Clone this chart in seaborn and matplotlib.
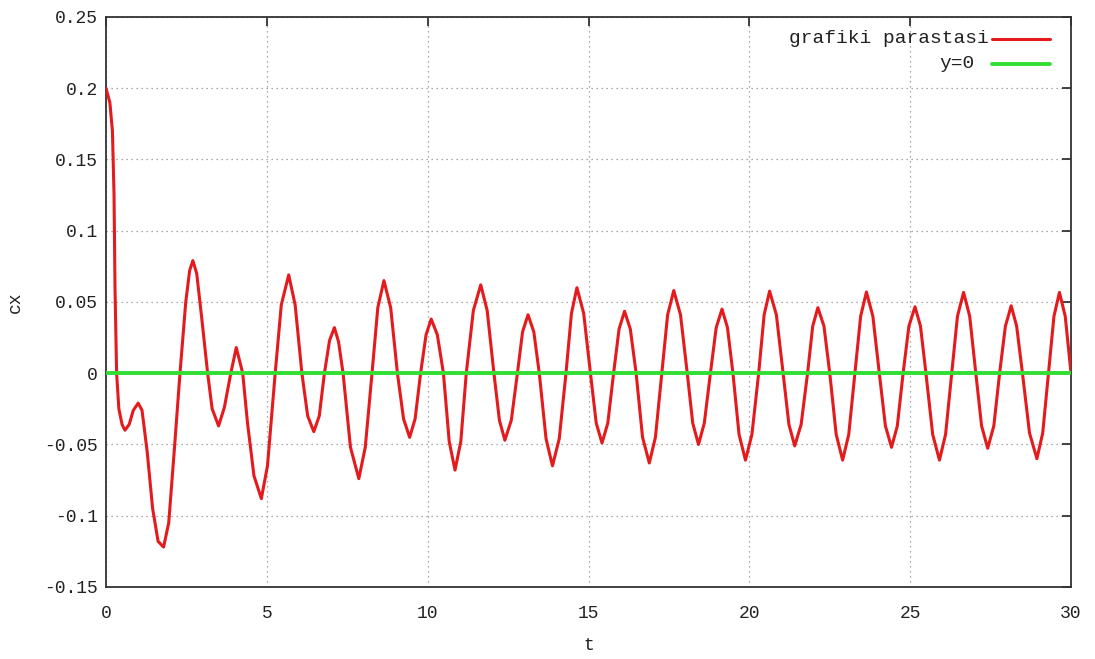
import numpy as np
import pandas as pd
import matplotlib
matplotlib.use("Agg")
import matplotlib.pyplot as plt
import matplotlib.ticker as mticker
import seaborn as sns

# values (t, cx)
t_vals = [0.00, 0.12, 0.20, 0.25, 0.28, 0.33, 0.40, 0.50, 0.59, 0.72, 0.85, 1.00,
          1.12, 1.28, 1.45, 1.62, 1.79, 1.95, 2.12, 2.30, 2.48, 2.60, 2.70, 2.82,
          2.97, 3.16, 3.30, 3.50, 3.68, 3.88, 4.05, 4.25, 4.40, 4.60, 4.83, 5.02,
          5.26, 5.45, 5.68, 5.88, 6.09, 6.27, 6.46, 6.63, 6.79, 6.95, 7.10, 7.23,
          7.37, 7.60, 7.86, 8.06, 8.27, 8.45, 8.64, 8.85, 9.06, 9.25, 9.44, 9.61,
          9.78, 9.95, 10.11, 10.30, 10.49, 10.67, 10.85, 11.03, 11.20, 11.42, 11.65, 11.85,
          12.06, 12.23, 12.40, 12.60, 12.79, 12.95, 13.12, 13.30, 13.47, 13.68, 13.88, 14.09,
          14.30, 14.47, 14.64, 14.85, 15.06, 15.24, 15.42, 15.60, 15.78, 15.95, 16.12, 16.30,
          16.48, 16.68, 16.89, 17.08, 17.28, 17.46, 17.65, 17.86, 18.07, 18.24, 18.42, 18.60,
          18.79, 18.97, 19.15, 19.32, 19.49, 19.68, 19.88, 20.08, 20.29, 20.46, 20.63, 20.84,
          21.05, 21.23, 21.41, 21.61, 21.81, 21.97, 22.13, 22.32, 22.50, 22.70, 22.90, 23.09,
          23.28, 23.46, 23.64, 23.84, 24.04, 24.23, 24.42, 24.60, 24.78, 24.96, 25.15, 25.32,
          25.49, 25.70, 25.91, 26.10, 26.29, 26.47, 26.66, 26.85, 27.04, 27.22, 27.41, 27.60,
          27.78, 27.96, 28.14, 28.31, 28.49, 28.71, 28.94, 29.12, 29.30, 29.47, 29.64, 29.82,
          30.00]
cx_vals = [0.200, 0.190, 0.170, 0.125, 0.060, 0.000, -0.025, -0.036, -0.040, -0.036, -0.026, -0.021,
           -0.026, -0.055, -0.095, -0.118, -0.122, -0.105, -0.055, 0.000, 0.050, 0.072, 0.079, 0.070,
           0.040, 0.000, -0.025, -0.037, -0.024, 0.000, 0.018, 0.000, -0.035, -0.072, -0.088, -0.065,
           0.000, 0.048, 0.069, 0.048, 0.000, -0.030, -0.041, -0.030, 0.000, 0.023, 0.032, 0.022,
           0.000, -0.052, -0.074, -0.052, 0.000, 0.046, 0.065, 0.046, 0.000, -0.032, -0.045, -0.032,
           0.000, 0.027, 0.038, 0.027, 0.000, -0.048, -0.068, -0.048, 0.000, 0.044, 0.062, 0.044,
           0.000, -0.033, -0.047, -0.033, 0.000, 0.029, 0.041, 0.029, 0.000, -0.046, -0.065, -0.046,
           0.000, 0.042, 0.060, 0.042, 0.000, -0.035, -0.049, -0.035, 0.000, 0.031, 0.0435, 0.031,
           0.000, -0.045, -0.063, -0.045, 0.000, 0.041, 0.058, 0.041, 0.000, -0.035, -0.050, -0.035,
           0.000, 0.032, 0.045, 0.032, 0.000, -0.043, -0.061, -0.043, 0.000, 0.041, 0.0576, 0.041,
           0.000, -0.036, -0.051, -0.036, 0.000, 0.033, 0.046, 0.033, 0.000, -0.043, -0.061, -0.043,
           0.000, 0.040, 0.057, 0.040, 0.000, -0.037, -0.052, -0.037, 0.000, 0.033, 0.0466, 0.033,
           0.000, -0.043, -0.061, -0.043, 0.000, 0.040, 0.0567, 0.040, 0.000, -0.037, -0.0527, -0.037,
           0.000, 0.033, 0.0473, 0.033, 0.000, -0.042, -0.060, -0.042, 0.000, 0.040, 0.0567, 0.040,
           0.000]
zero_t = [0, 30]
zero_y = [0, 0]
x_ticks = [0, 5, 10, 15, 20, 25, 30]
y_ticks = [-0.15, -0.1, -0.05, 0, 0.05, 0.1, 0.15, 0.2, 0.25]

df = pd.DataFrame({"t": t_vals, "cx": cx_vals})
df0 = pd.DataFrame({"t": zero_t, "y": zero_y})

sns.set_style("white")
plt.rcParams["font.family"] = ["Liberation Mono", "DejaVu Sans"]

fig = plt.figure(figsize=(10.95, 6.59), dpi=100)
ax = fig.add_axes([0.0968, 0.1093, 0.8813, 0.8650])

sns.lineplot(data=df, x="t", y="cx", ax=ax, color="#e41a1c", linewidth=2.2,
             estimator=None, sort=False, zorder=3)
sns.lineplot(data=df0, x="t", y="y", ax=ax, color="#33dd33", linewidth=2.8,
             estimator=None, sort=False, zorder=4)

ax.set_xlim(0, 30)
ax.set_ylim(-0.15, 0.25)
ax.set_xticks(x_ticks)
ax.set_yticks(y_ticks)
fmt = mticker.FuncFormatter(lambda v, p: "%g" % round(v, 4))
ax.xaxis.set_major_formatter(fmt)
ax.yaxis.set_major_formatter(fmt)

ax.grid(True, color="#909090", linestyle=(0, (1, 3)), linewidth=0.9)
ax.tick_params(direction="in", length=6.5, width=1.2, color="#222222",
               top=True, right=True, labelsize=13, labelcolor="#222222")
ax.tick_params(axis="x", pad=13)
ax.tick_params(axis="y", pad=6)
for s in ax.spines.values():
    s.set_color("#333333")
    s.set_linewidth(1.3)

ax.set_xlabel("t", fontsize=13, color="#222222")
ax.set_ylabel("cx", fontsize=13, color="#222222")
ax.xaxis.set_label_coords(0.5, -0.088)
ax.yaxis.set_label_coords(-0.085, 0.5)

# gnuplot-style key: right-aligned text followed by the line sample
ax.text(0.915, 0.962, "grafiki parastasi", transform=ax.transAxes, ha="right",
        va="center", fontsize=14, color="#222222")
ax.plot([0.918, 0.978], [0.962, 0.962], transform=ax.transAxes,
        color="#e41a1c", linewidth=2.2)
ax.text(0.900, 0.918, "y=0", transform=ax.transAxes, ha="right",
        va="center", fontsize=14, color="#222222")
ax.plot([0.918, 0.978], [0.918, 0.918], transform=ax.transAxes,
        color="#33dd33", linewidth=2.8)

fig.savefig("out.png", dpi=100)
